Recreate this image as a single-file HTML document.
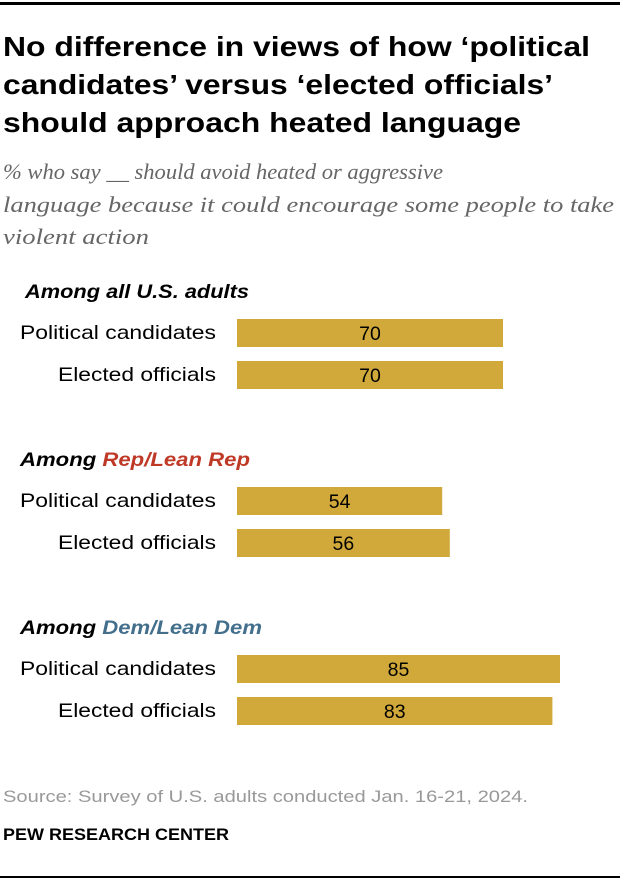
<!DOCTYPE html>
<html><head><meta charset="utf-8"><style>
html,body{margin:0;padding:0;background:#fff;}
svg{display:block;font-family:"Liberation Sans",sans-serif;}
</style></head><body>
<svg id="chart" width="620" height="884" viewBox="0 0 620 884" xmlns="http://www.w3.org/2000/svg">
<rect x="0" y="2" width="620" height="3" fill="#000"/>
<g font-weight="bold" font-size="28" fill="#000">
<text x="3" y="56" textLength="587" lengthAdjust="spacingAndGlyphs">No difference in views of how ‘political</text>
<text x="3" y="94" textLength="550" lengthAdjust="spacingAndGlyphs">candidates’ versus ‘elected officials’</text>
<text x="3" y="132" textLength="518" lengthAdjust="spacingAndGlyphs">should approach heated language</text>
</g>
<g font-family="'Liberation Serif',serif" font-style="italic" font-size="22" fill="#666">
<text x="3" y="179" textLength="440" lengthAdjust="spacingAndGlyphs">% who say __ should avoid heated or aggressive</text>
<text x="3" y="212" textLength="611" lengthAdjust="spacingAndGlyphs">language because it could encourage some people to take</text>
<text x="3" y="244" textLength="146" lengthAdjust="spacingAndGlyphs">violent action</text>
</g>
<g id="bars"></g>
<text x="3" y="802" font-size="17" fill="#999" textLength="525" lengthAdjust="spacingAndGlyphs">Source: Survey of U.S. adults conducted Jan. 16-21, 2024.</text>
<text x="3" y="840" font-size="17" font-weight="bold" fill="#000" textLength="226" lengthAdjust="spacingAndGlyphs">PEW RESEARCH CENTER</text>
<rect x="0" y="876" width="620" height="2" fill="#000"/>
</svg>
<script>
const groups = ["Among all U.S. adults", "Among Rep/Lean Rep", "Among Dem/Lean Dem"];
const categories = ["Political candidates", "Elected officials"];
const values = [[70, 70], [54, 56], [85, 83]];
const NS = "http://www.w3.org/2000/svg";
const g = document.getElementById("bars");
const x0 = 237, scale = 3.8;
const xPos = v => x0 + v * scale;
const groupTop = [319, 487, 655];
const headColors = [null, "#bf3927", "#436f8c"];
const headWidths = [224, 230, 242];
const labelWidths = [196, 158];
function mk(tag, attrs){const e=document.createElementNS(NS,tag);for(const k in attrs)e.setAttribute(k,attrs[k]);return e;}
groups.forEach((gn, gi) => {
  const hx = gi===0?25:20;
  const head = mk("text", {x: hx, y: groupTop[gi]-21, "font-size":19, "font-weight":"bold", "font-style":"italic", fill:"#000", textLength: headWidths[gi], lengthAdjust:"spacingAndGlyphs"});
  
  
  if (gi === 0) head.textContent = gn;
  else {
    head.appendChild(document.createTextNode("Among "));
    const ts = mk("tspan", {fill: headColors[gi]});
    ts.textContent = gn.replace("Among ", "");
    head.appendChild(ts);
  }
  g.appendChild(head);
  categories.forEach((c, ci) => {
    const y = groupTop[gi] + ci * 42;
    const v = values[gi][ci];
    const lab = mk("text", {x: 216 - labelWidths[ci], y: y + 20, "font-size":19.5, fill:"#000", textLength: labelWidths[ci], lengthAdjust:"spacingAndGlyphs"});
    
    
    lab.textContent = c;
    g.appendChild(lab);
    const r = mk("rect", {x: x0, y: y, width: xPos(v) - x0, height: 28, fill: "#d1a93a"});
    
    
    g.appendChild(r);
    const t = mk("text", {x: (x0 + xPos(v)) / 2, y: y + 21, "text-anchor":"middle", "font-size":19.5, fill:"#000"});
    
    
    t.textContent = v;
    g.appendChild(t);
  });
});
</script>
</body></html>
